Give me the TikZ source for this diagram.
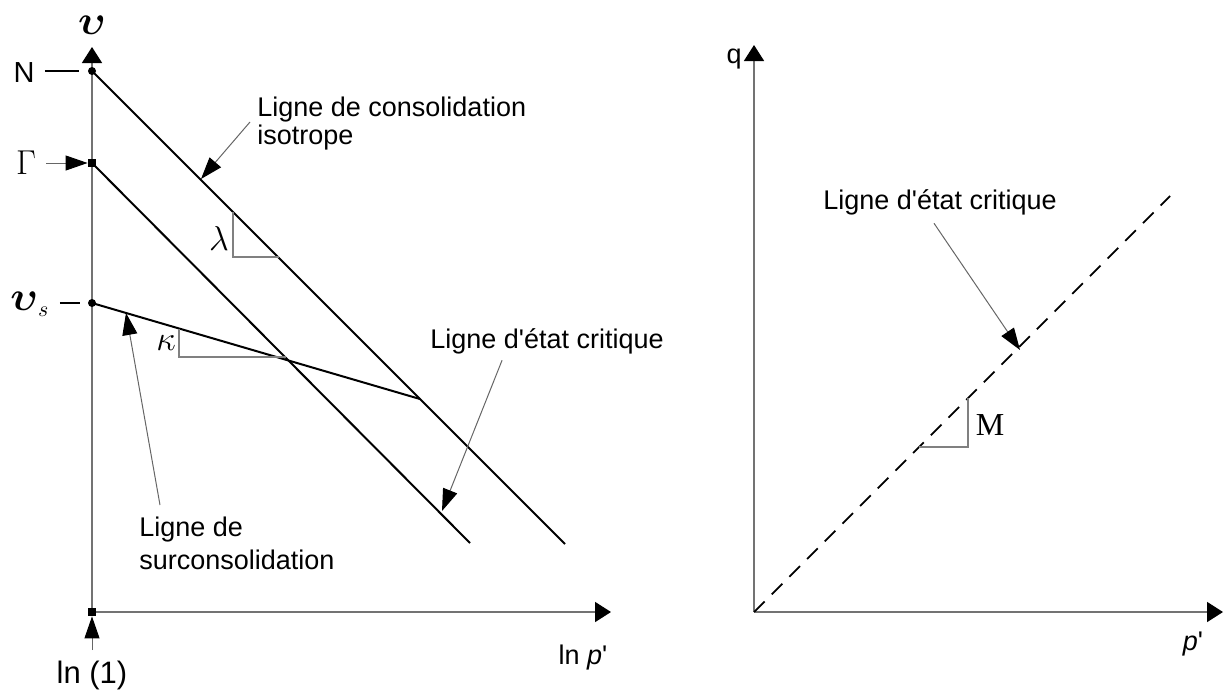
\documentclass[tikz,border=0pt]{standalone}
\usepackage{amsmath}
\usepackage{fontspec}
\setmainfont{Liberation Sans}
\newfontfamily\serifrm{Liberation Serif}
\usetikzlibrary{arrows.meta, calc}

\begin{document}
\begin{tikzpicture}[
    x=0.5pt, y=-0.5pt,
    % Styles
    axis/.style={draw=black!55, line width=0.8pt, -{Triangle[length=8pt, width=10pt, color=black]}},
    curve/.style={draw=black, line width=1pt},
    slope/.style={draw=black!50, line width=0.6pt},
    callout/.style={draw=black!60, line width=0.5pt, -{Triangle[length=11pt, width=7.5pt, color=black]}},
    tick/.style={draw=black, line width=0.6pt},
    lbl/.style={inner sep=0pt, font=\fontsize{13.5}{14}\selectfont, align=left},
    sym/.style={inner sep=0pt, font=\fontsize{13}{15}\selectfont},
    dotmark/.style={circle, fill=black, inner sep=0pt, minimum size=4pt},
    sqmark/.style={rectangle, fill=black, inner sep=0pt, minimum size=4pt}
]
    \useasboundingbox (0,0) rectangle (1224,691);

    % --- Left: v against ln p' ---
    \coordinate (O1) at (92,612);
    \draw [axis] (O1) -- (92,47) coordinate (vtop);
    \draw [axis] (O1) -- (611,612) coordinate (xend1);

    \node [sqmark] (origin1) at (O1) {};
    \node [dotmark] (N) at (92,71) {};
    \node [sqmark] (G) at (92,163) {};
    \node [dotmark] (vs) at (92,303) {};

    \coordinate (nclend) at (565,544);
    \coordinate (cslend) at (470,543);
    \coordinate (K) at (420,399);

    \draw [curve] (N.center) -- (nclend);
    \draw [curve] (G.center) -- (cslend);
    \draw [curve] (vs.center) -- (K);

    % slope triangles
    \draw [slope] (233,212) |- (279,257);
    \draw [slope] (179,329) |- (286,357);
    \node [sym, font=\fontsize{16}{16}\selectfont] (lambda) at (219,238) {$\lambda$};
    \node [sym, font=\fontsize{18}{18}\selectfont] (kappa) at (166,343) {$\kappa$};

    % axis labels
    \node [sym, font=\fontsize{22}{22}\selectfont, anchor=base] (vlbl) at (92,34) {$\boldsymbol{\upsilon}$};
    \node [sym, font=\fontsize{14.5}{15}\selectfont] (Nlbl) at (24,73) {N};
    \node [sym, font=\fontsize{17}{17}\selectfont] (Glbl) at (26,163) {$\Gamma$};
    \node [sym, font=\fontsize{22}{22}\selectfont, anchor=base west] (vslbl) at (10,310) {$\boldsymbol{\upsilon}_{\scriptscriptstyle s}$};
    \node [sym, font=\fontsize{15.5}{16}\selectfont] (lnlbl) at (92,675) {ln (1)};
    \node [lbl] (lnp) at (583,658) {ln \textit{p}\textquotesingle};

    \draw [tick, shorten <=5pt, shorten >=4.5pt] (Nlbl.east |- N) -- (N);
    \draw [tick, shorten <=5pt, shorten >=4pt] (vslbl.east |- vs) -- (vs);
    \draw [callout, shorten <=5pt] (Glbl.east |- G) -- (G);
    \draw [callout, shorten <=5pt] (lnlbl) -- (origin1);

    % callouts
    \node [lbl, anchor=north west] (ncllbl) at (257,97) {Ligne de consolidation\\isotrope};
    \coordinate (nclpt) at (201,179);
    \draw [callout] ($(ncllbl.west)+(-7,-2)$) -- (nclpt);

    \node [lbl, anchor=north west] (csllbl) at (430,328) {Ligne d\textquotesingle état critique};
    \coordinate (cslpt) at (442,511);
    \draw [callout] ($(csllbl.south)+(-45,6)$) -- (cslpt);

    \node [lbl, anchor=north west, font=\fontsize{13.5}{16.5}\selectfont] (urllbl) at (139,517) {Ligne de\\surconsolidation};
    \coordinate (urlpt) at (126,313);
    \draw [callout] ($(urllbl.north west)+(21,-12)$) -- (urlpt);

    % --- Right: q against p' ---
    \coordinate (O2) at (754,612);
    \draw [axis] (O2) -- (754,45) coordinate (qtop);
    \draw [axis] (O2) -- (1223,612) coordinate (xend2);
    \node [sym, font=\fontsize{13.5}{14}\selectfont, anchor=base] (qlbl) at (734,63) {q};
    \node [lbl] (plbl) at (1193,644) {\textit{p}\textquotesingle};

    \coordinate (cslend2) at (1170,196);
    \draw [curve, line width=0.9pt, dash pattern=on 7.5pt off 5pt] (O2) -- (cslend2);

    \draw [slope] (919,447) -| (968,398);
    \node [sym, font=\serifrm\fontsize{16}{16}\selectfont] (Mlbl) at (990,425) {M};

    \node [lbl, anchor=north west] (csllbl2) at (823,189) {Ligne d\textquotesingle état critique};
    \coordinate (cslpt2) at (1020,350);
    \draw [callout] ($(csllbl2.south west)+(111,8)$) -- (cslpt2);

\end{tikzpicture}
\end{document}
